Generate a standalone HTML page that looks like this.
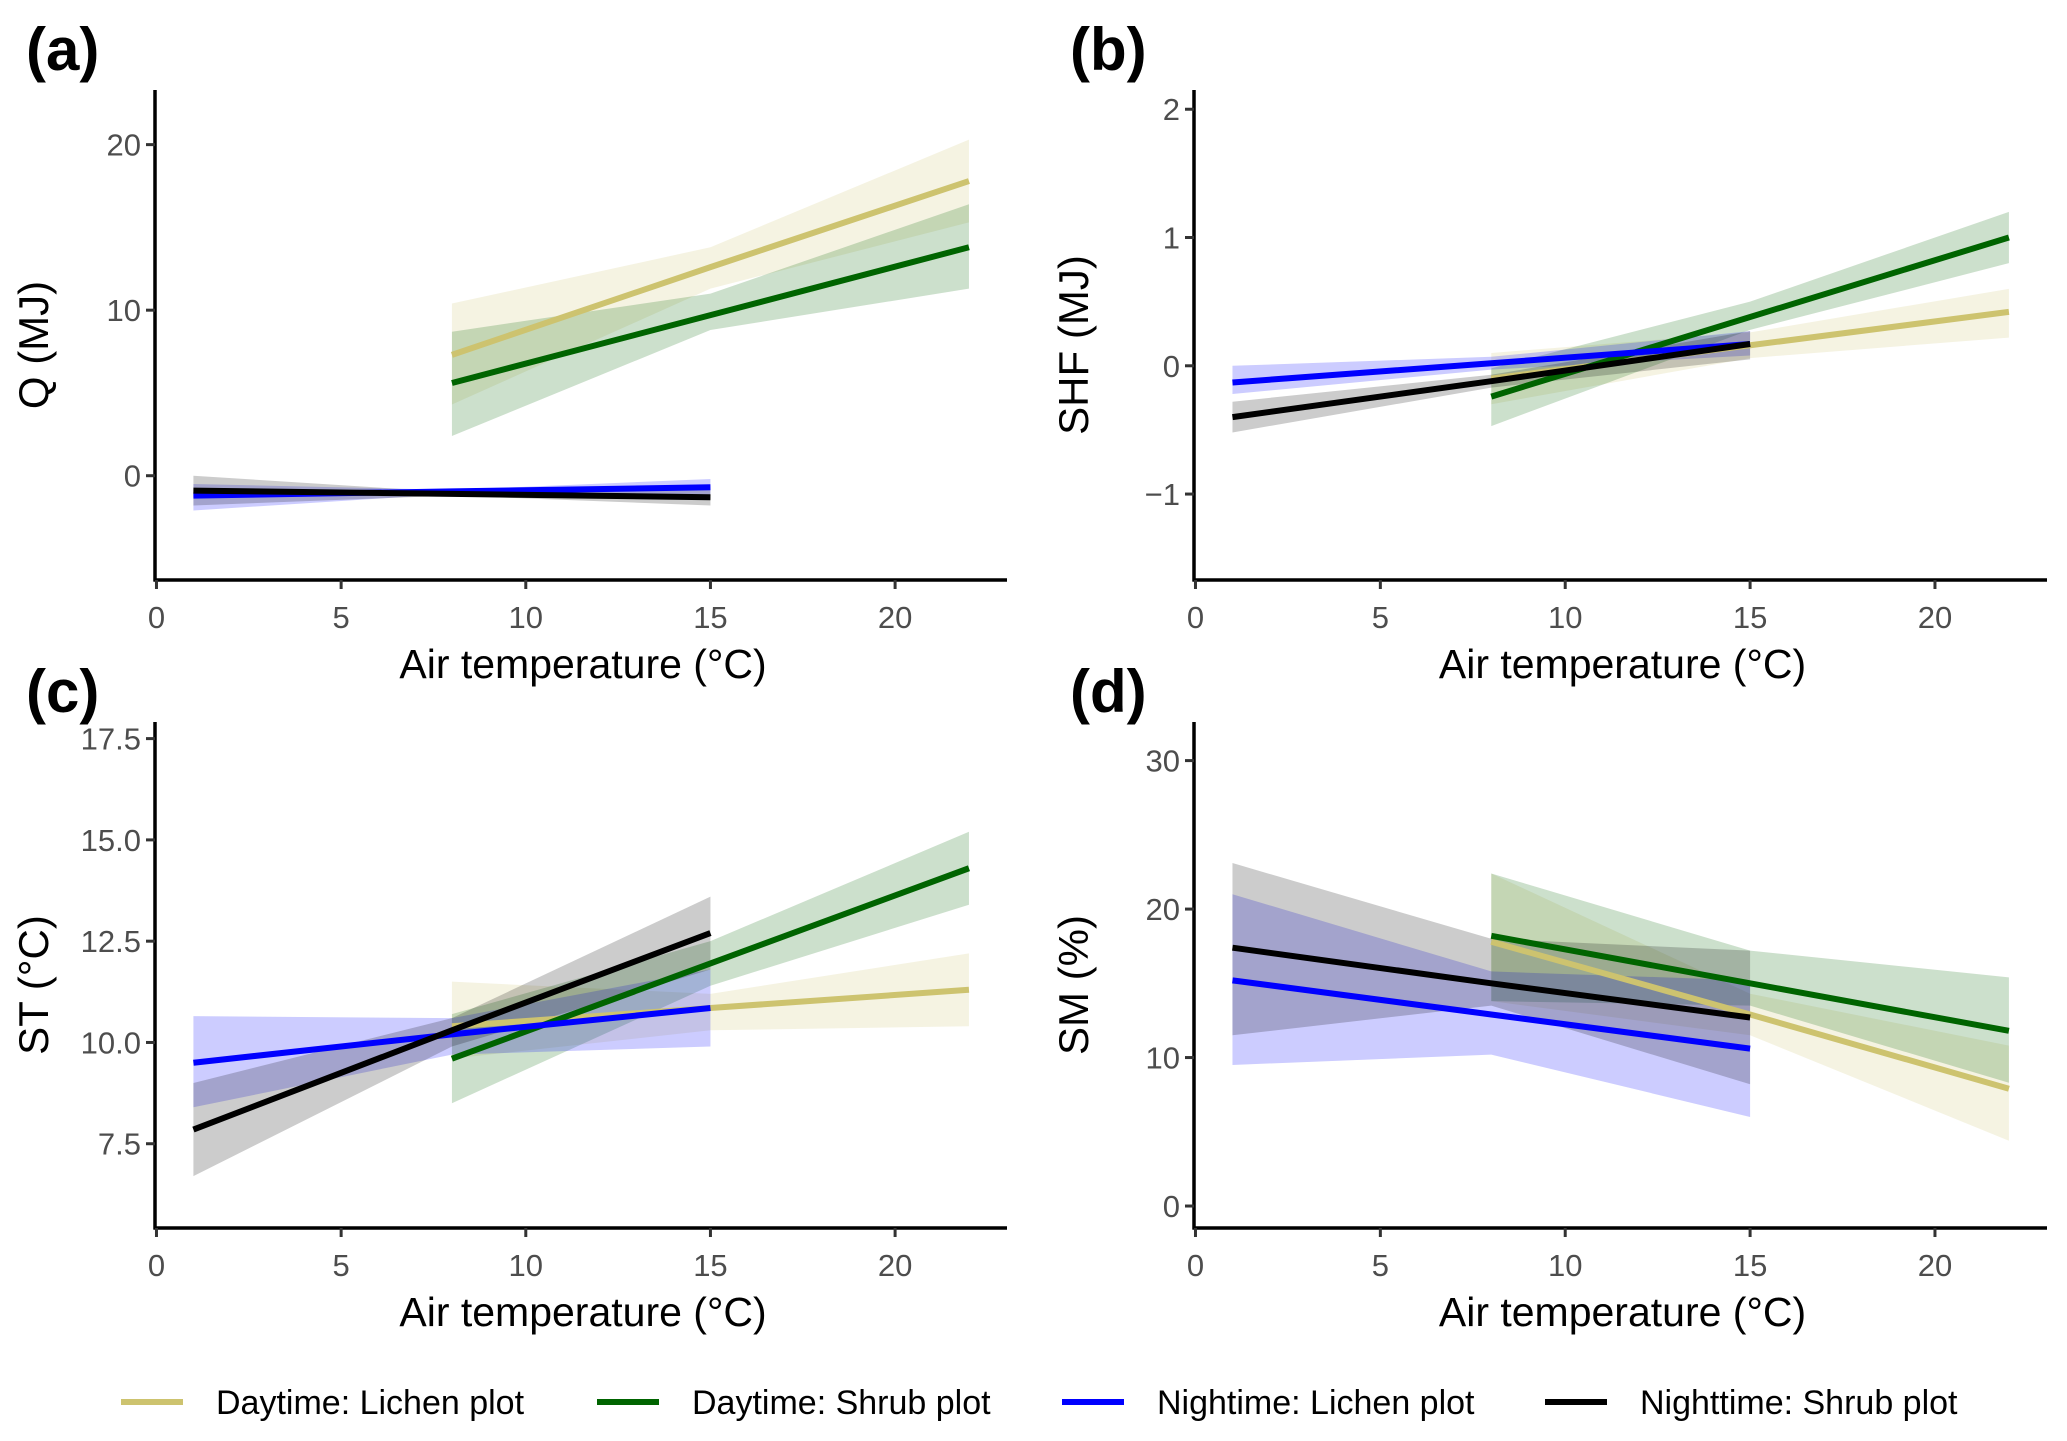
<!DOCTYPE html>
<html><head><meta charset="utf-8">
<style>
body{margin:0;background:#fff;}
svg{display:block;font-family:"Liberation Sans",sans-serif;}
</style></head>
<body>
<svg id="fig" width="2067" height="1441" viewBox="0 0 2067 1441" xmlns="http://www.w3.org/2000/svg"></svg>
<script>
// ---- data ----
const seriesNames = ["Daytime: Lichen plot","Daytime: Shrub plot","Nightime: Lichen plot","Nighttime: Shrub plot"];
const seriesColors = ["#CDC36F","#006400","#0000FF","#000000"];
const xTicks = [0,5,10,15,20];
const dayX = [8,15,22];
const nightX = [1,8,15];

// Panel a: Q (MJ)
const aTicks = [0,10,20];
const aDayLichenFit = [7.3,12.6,17.8];
const aDayLichenLo = [4.3,11.3,15.3];
const aDayLichenHi = [10.4,13.8,20.3];
const aDayShrubFit = [5.6,9.7,13.8];
const aDayShrubLo = [2.4,8.8,11.3];
const aDayShrubHi = [8.7,11.0,16.4];
const aNightLichenFit = [-1.2,-0.95,-0.7];
const aNightLichenLo = [-2.1,-1.1,-1.2];
const aNightLichenHi = [-0.5,-0.85,-0.2];
const aNightShrubFit = [-0.9,-1.1,-1.3];
const aNightShrubLo = [-1.8,-1.2,-1.8];
const aNightShrubHi = [0.0,-1.0,-0.8];

// Panel b: SHF (MJ)
const bTicks = [-1,0,1,2];
const bDayLichenFit = [-0.1,0.16,0.42];
const bDayLichenLo = [-0.3,0.06,0.22];
const bDayLichenHi = [0.1,0.26,0.6];
const bDayShrubFit = [-0.24,0.38,1.0];
const bDayShrubLo = [-0.47,0.28,0.8];
const bDayShrubHi = [-0.02,0.5,1.2];
const bNightLichenFit = [-0.13,0.02,0.17];
const bNightLichenLo = [-0.22,-0.03,0.08];
const bNightLichenHi = [0.0,0.07,0.27];
const bNightShrubFit = [-0.4,-0.12,0.17];
const bNightShrubLo = [-0.52,-0.17,0.05];
const bNightShrubHi = [-0.28,-0.07,0.27];

// Panel c: ST (°C)
const cTicks = [7.5,10.0,12.5,15.0,17.5];
const cDayLichenFit = [10.4,10.85,11.3];
const cDayLichenLo = [9.6,10.3,10.4];
const cDayLichenHi = [11.5,11.2,12.2];
const cDayShrubFit = [9.6,11.95,14.3];
const cDayShrubLo = [8.5,11.4,13.4];
const cDayShrubHi = [10.7,12.5,15.2];
const cNightLichenFit = [9.5,10.2,10.85];
const cNightLichenLo = [8.4,9.7,9.9];
const cNightLichenHi = [10.65,10.6,11.8];
const cNightShrubFit = [7.85,10.3,12.7];
const cNightShrubLo = [6.7,9.9,11.8];
const cNightShrubHi = [9.0,10.6,13.6];

// Panel d: SM (%)
const dTicks = [0,10,20,30];
const dDayLichenFit = [17.8,12.9,7.9];
const dDayLichenLo = [13.8,11.5,4.4];
const dDayLichenHi = [22.4,14.3,10.8];
const dDayShrubFit = [18.2,15.0,11.8];
const dDayShrubLo = [13.8,13.5,8.3];
const dDayShrubHi = [22.4,17.2,15.4];
const dNightLichenFit = [15.2,12.9,10.6];
const dNightLichenLo = [9.5,10.2,6.0];
const dNightLichenHi = [21.0,15.8,15.2];
const dNightShrubFit = [17.4,15.0,12.7];
const dNightShrubLo = [11.5,13.5,8.2];
const dNightShrubHi = [23.1,18.0,17.2];

// ---- drawing ----
const NS="http://www.w3.org/2000/svg";
const svg=document.getElementById('fig');
function mk(tag,attrs,parent){const e=document.createElementNS(NS,tag);for(const k in attrs)e.setAttribute(k,attrs[k]);(parent||svg).appendChild(e);return e;}

const panels=[
 {id:'a',label:'(a)',ytitle:'Q (MJ)',left:155,right:1007,top:90,bottom:580,ydom:[-6.3,23.3],ticks:aTicks,fmt:v=>String(v),lx:26,ly:70,tx:34,
  s:[[aDayLichenFit,aDayLichenLo,aDayLichenHi],[aDayShrubFit,aDayShrubLo,aDayShrubHi],[aNightLichenFit,aNightLichenLo,aNightLichenHi],[aNightShrubFit,aNightShrubLo,aNightShrubHi]]},
 {id:'b',label:'(b)',ytitle:'SHF (MJ)',left:1194,right:2047,top:90,bottom:580,ydom:[-1.67,2.15],ticks:bTicks,fmt:v=>v<0?'\u2212'+Math.abs(v):String(v),lx:1070,ly:70,tx:1074,
  s:[[bDayLichenFit,bDayLichenLo,bDayLichenHi],[bDayShrubFit,bDayShrubLo,bDayShrubHi],[bNightLichenFit,bNightLichenLo,bNightLichenHi],[bNightShrubFit,bNightShrubLo,bNightShrubHi]]},
 {id:'c',label:'(c)',ytitle:'ST (\u00B0C)',left:155,right:1007,top:722,bottom:1228,ydom:[5.42,17.91],ticks:cTicks,fmt:v=>v.toFixed(1),lx:26,ly:712,tx:34,
  s:[[cDayLichenFit,cDayLichenLo,cDayLichenHi],[cDayShrubFit,cDayShrubLo,cDayShrubHi],[cNightLichenFit,cNightLichenLo,cNightLichenHi],[cNightShrubFit,cNightShrubLo,cNightShrubHi]]},
 {id:'d',label:'(d)',ytitle:'SM (%)',left:1194,right:2047,top:722,bottom:1228,ydom:[-1.48,32.6],ticks:dTicks,fmt:v=>String(v),lx:1070,ly:712,tx:1074,
  s:[[dDayLichenFit,dDayLichenLo,dDayLichenHi],[dDayShrubFit,dDayShrubLo,dDayShrubHi],[dNightLichenFit,dNightLichenLo,dNightLichenHi],[dNightShrubFit,dNightShrubLo,dNightShrubHi]]}
];
const xdom=[-0.04,23.03];
const order=[0,1,2,3];

panels.forEach(p=>{
  const g=mk('g',{});
  
  
  const X=v=>p.left+(v-xdom[0])/(xdom[1]-xdom[0])*(p.right-p.left);
  const Y=v=>p.bottom-(v-p.ydom[0])/(p.ydom[1]-p.ydom[0])*(p.bottom-p.top);
  order.forEach(i=>{
    const xs=i<2?dayX:nightX;const [fit,lo,hi]=p.s[i];
    let pts=xs.map((x,k)=>X(x)+','+Y(hi[k]));
    pts=pts.concat(xs.slice().reverse().map((x,k)=>X(x)+','+Y(lo[xs.length-1-k])));
    const r=mk('polygon',{points:pts.join(' '),fill:seriesColors[i],'fill-opacity':0.2},g);
    
    
  });
  order.forEach(i=>{
    const xs=i<2?dayX:nightX;const fit=p.s[i][0];
    const l=mk('polyline',{points:xs.map((x,k)=>X(x)+','+Y(fit[k])).join(' '),fill:'none',stroke:seriesColors[i],'stroke-width':6},g);
    
    
  });
  const ya=mk('line',{x1:p.left,y1:p.top,x2:p.left,y2:p.bottom+1.5,stroke:'#000','stroke-width':3.5},g);
  
  
  const xa=mk('line',{x1:p.left-1.5,y1:p.bottom,x2:p.right,y2:p.bottom,stroke:'#000','stroke-width':3.5},g);
  
  
  xTicks.forEach(t=>{
    mk('line',{x1:X(t),y1:p.bottom,x2:X(t),y2:p.bottom+9,stroke:'#333','stroke-width':3},g);
    const tl=mk('text',{x:X(t),y:p.bottom+48,'text-anchor':'middle','font-size':31,fill:'#4d4d4d'},g);
    tl.textContent=t;
    
    
  });
  p.ticks.forEach(t=>{
    mk('line',{x1:p.left-9,y1:Y(t),x2:p.left,y2:Y(t),stroke:'#333','stroke-width':3},g);
    const tl=mk('text',{x:p.left-14,y:Y(t)+11,'text-anchor':'end','font-size':31,fill:'#4d4d4d'},g);
    tl.textContent=p.fmt(t);
    
    
  });
  const xt=mk('text',{x:(p.left+p.right)/2+2,y:p.bottom+98,'text-anchor':'middle','font-size':41,fill:'#000'},g);
  xt.textContent='Air temperature (\u00B0C)';
  
  
  const cy=(p.top+p.bottom)/2+10;
  const yt=mk('text',{x:p.tx+14,y:cy,'text-anchor':'middle','font-size':42,fill:'#000',transform:'rotate(-90 '+(p.tx+14)+' '+cy+')'},g);
  yt.textContent=p.ytitle;
  
  
  const pl=mk('text',{x:p.lx,y:p.ly,'font-size':60,'font-weight':'bold',fill:'#000'},g);
  pl.textContent=p.label;
  
  
});

const legX=[121,597,1062,1545];
const lg=mk('g',{});


seriesNames.forEach((n,i)=>{
  const ln=mk('line',{x1:legX[i],y1:1402,x2:legX[i]+62,y2:1402,stroke:seriesColors[i],'stroke-width':6},lg);
  
  
  const t=mk('text',{x:legX[i]+95,y:1414,'font-size':34,fill:'#000'},lg);
  t.textContent=n;
  
  
});
</script>
</body></html>
